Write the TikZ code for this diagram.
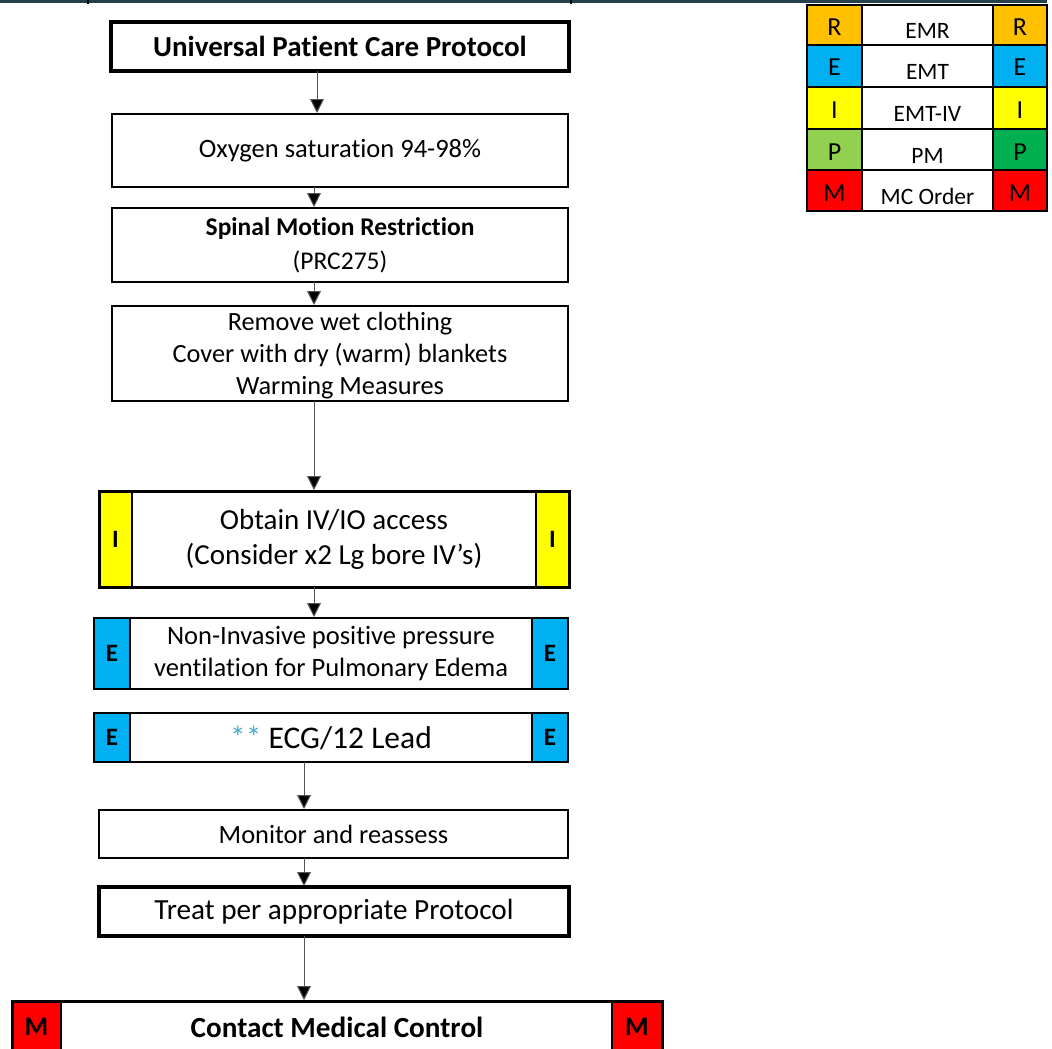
\documentclass[tikz,border=0pt]{standalone}
\usepackage{fontspec}
\setmainfont{Carlito}[Ligatures=NoCommon]
\usetikzlibrary{arrows.meta}
\definecolor{cR}{HTML}{FFC000}
\definecolor{cE}{HTML}{00B0F0}
\definecolor{cI}{HTML}{FFFF00}
\definecolor{cPl}{HTML}{92D050}
\definecolor{cPr}{HTML}{00B050}
\definecolor{cM}{HTML}{FF0000}
\definecolor{starc}{HTML}{4BACC6}
\definecolor{topbar}{HTML}{24404C}
\definecolor{conn}{HTML}{555555}
\tikzset{
  box/.style={draw, fill=white, line width=1.5pt, inner sep=0pt, outer sep=0pt, align=center, rectangle},
  thickbox/.style={box, line width=3.5pt},
  side/.style={draw, line width=1.5pt, inner sep=0pt, outer sep=0pt, rectangle, font=\fontsize{25}{30}\selectfont\bfseries},
  arr/.style={draw=conn, line width=1pt, -{Triangle[length=14pt,width=14pt,fill=black]}, shorten >=1pt},
  legletter/.style={anchor=base, inner sep=0pt, font=\fontsize{26}{30}\selectfont},
  legtext/.style={anchor=base, inner sep=0pt, font=\fontsize{23.5}{28}\selectfont}
}
\begin{document}
\begin{tikzpicture}[x=1pt,y=-1pt]
\useasboundingbox (0,0) rectangle (1052,1049);
% top rule
\draw[topbar, line width=3pt] (0,1.5) -- (1047,1.5);
\draw[black, line width=1.5pt] (88,0) -- (88,4.5);
\draw[black, line width=1.5pt] (571,0) -- (571,4.5);

% legend
\foreach \t/\b/\L/\T/\cl/\cr [count=\k] in {5/45/R/EMR/cR/cR, 45/87/E/EMT/cE/cE, 87/129/I/EMT-IV/cI/cI, 129/170/P/PM/cPl/cPr, 170/211/M/MC Order/cM/cM}{
  \path[fill=\cl] (807,\t) rectangle (862,\b);
  \path[fill=\cr] (993,\t) rectangle (1047,\b);
  \draw[line width=2pt] (807,\t) rectangle (862,\b);
  \draw[line width=2pt] (862,\t) rectangle (993,\b);
  \draw[line width=2pt] (993,\t) rectangle (1047,\b);
  \node[legletter] (legL\k) at (834.5,\t+31) {\L};
  \node[legtext] (legT\k) at (927.5,\t+34) {\T};
  \node[legletter] (legR\k) at (1020,\t+31) {\L};
}
\draw[line width=2.5pt] (807,5) rectangle (1047,211);

% main boxes
\node[thickbox, minimum width=458pt, minimum height=49pt, font=\fontsize{29}{35}\selectfont\bfseries] (b1) at (340,46.5) {Universal Patient Care Protocol};
\node[box, minimum width=456pt, minimum height=73pt, font=\fontsize{26.5}{32}\selectfont] (b2) at (340,150.5) {Oxygen saturation 94-98\%};
\node[box, minimum width=456pt, minimum height=74pt, font=\fontsize{25.5}{34}\selectfont] (b3) at (340,245) {\textbf{Spinal Motion Restriction}\\(PRC275)};
\node[box, minimum width=456pt, minimum height=95pt, font=\fontsize{26.3}{32}\selectfont] (b4) at (340,353.5) {\rule{0pt}{22pt}Remove wet clothing\\Cover with dry (warm) blankets\\Warming Measures};

\node[box, minimum width=470pt, minimum height=96pt, font=\fontsize{29}{35}\selectfont] (b5) at (334,539) {Obtain IV/IO access\\(Consider x2 Lg bore IV’s)};
\node[side, fill=cI, minimum width=33pt, minimum height=96pt, anchor=west] (b5l) at (b5.west) {I};
\node[side, fill=cI, minimum width=33pt, minimum height=96pt, anchor=east] (b5r) at (b5.east) {I};
\draw[line width=3pt] (b5.north west) rectangle (b5.south east);

\node[box, line width=2pt, minimum width=474pt, minimum height=71pt, font=\fontsize{26.5}{32}\selectfont] (b6) at (331,653.5) {Non-Invasive positive pressure\\ventilation for Pulmonary Edema};
\node[side, fill=cE, minimum width=36pt, minimum height=71pt, anchor=west] (b6l) at (b6.west) {E};
\node[side, fill=cE, minimum width=36pt, minimum height=71pt, anchor=east] (b6r) at (b6.east) {E};
\draw[line width=2pt] (b6.north west) rectangle (b6.south east);

\node[box, line width=2pt, minimum width=474pt, minimum height=49pt, font=\fontsize{31.5}{36}\selectfont] (b7) at (331,737.5) {\textcolor{starc}{**} ECG/12 Lead};
\node[side, fill=cE, minimum width=36pt, minimum height=49pt, anchor=west] (b7l) at (b7.west) {E};
\node[side, fill=cE, minimum width=36pt, minimum height=49pt, anchor=east] (b7r) at (b7.east) {E};
\draw[line width=2pt] (b7.north west) rectangle (b7.south east);

\node[box, minimum width=469pt, minimum height=48pt, font=\fontsize{26.4}{32}\selectfont] (b8) at (333.5,834) {Monitor and reassess};
\node[thickbox, minimum width=470pt, minimum height=49pt, font=\fontsize{29.2}{35}\selectfont] (b9) at (334,911.5) {Treat per appropriate Protocol};

\node[box, line width=3pt, minimum width=650pt, minimum height=52pt, font=\fontsize{29.2}{35}\selectfont\bfseries] (b10) at (337,1027) {Contact Medical Control};
\node[side, fill=cM, minimum width=49pt, minimum height=52pt, anchor=west, font=\fontsize{27}{32}\selectfont\bfseries] (b10l) at (b10.west) {M};
\node[side, fill=cM, minimum width=50pt, minimum height=52pt, anchor=east, font=\fontsize{27}{32}\selectfont\bfseries] (b10r) at (b10.east) {M};
\draw[line width=3pt] (b10.north west) rectangle (b10.south east);

% connector x positions
\coordinate (xa) at (317,0);
\coordinate (xb) at (314,0);
\coordinate (xc) at (304,0);
\draw[arr] (b1.south -| xa) -- (b2.north -| xa);
\draw[arr] (b2.south -| xb) -- (b3.north -| xb);
\draw[arr] (b3.south -| xb) -- (b4.north -| xb);
\draw[arr] (b4.south -| xb) -- (b5.north -| xb);
\draw[arr] (b5.south -| xb) -- (b6.north -| xb);
\draw[arr] (b7.south -| xc) -- (b8.north -| xc);
\draw[arr] (b8.south -| xc) -- (b9.north -| xc);
\draw[arr] (b9.south -| xc) -- (b10.north -| xc);
\end{tikzpicture}
\end{document}
